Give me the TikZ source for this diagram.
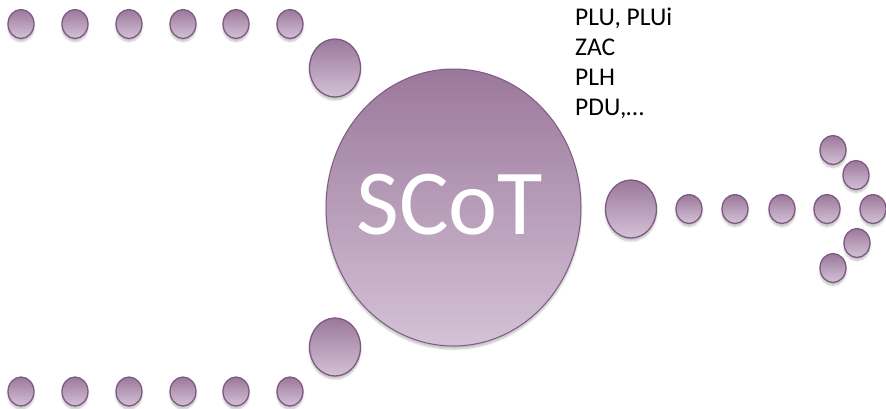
\documentclass[tikz,border=0pt]{standalone}
\usepackage{fontspec}
\setmainfont{Carlito}
\usetikzlibrary{shapes.geometric,shadows.blur}
\definecolor{ctop}{RGB}{155,120,155}
\definecolor{cbot}{RGB}{212,194,214}
\definecolor{cedge}{RGB}{126,90,130}
\tikzset{
  bub/.style={ellipse, inner sep=0pt, draw=cedge, line width=1.3pt,
    top color=ctop, bottom color=cbot,
    blur shadow={shadow xshift=0pt, shadow yshift=-3pt, shadow blur steps=6, shadow opacity=25}},
  smallb/.style={bub, minimum width=26, minimum height=29},
  medb/.style={bub, minimum width=51, minimum height=58},
  bigb/.style={bub, line width=1pt, minimum width=255, minimum height=277},
  lbl/.style={anchor=base west, inner sep=0pt, font=\fontsize{25.5}{30}\selectfont, text=black}
}
\begin{document}
\begin{tikzpicture}[x=1pt,y=-1pt]
\useasboundingbox (0,0) rectangle (886,408);
% top and bottom rows
\foreach \i/\x in {1/21,2/75,3/129,4/183,5/236,6/290}{
  \node[smallb] (t\i) at (\x,24) {};
  \node[smallb] (b\i) at (\x,391.5) {};
}
\node[medb] (tm) at (335,68) {};
\node[medb] (bm) at (335,347) {};
\node[bigb] (scot) at (453.5,207.5) {};
\node[text=white, inner sep=0pt, font=\fontsize{93}{100}\selectfont] (scotlbl) at (450,205) {SCoT};
% right arrow
\node[medb] (rm) at (631,209) {};
\foreach \i/\x in {1/689,2/735,3/782,4/827,5/873}{
  \node[smallb] (r\i) at (\x,209) {};
}
\node[smallb] (u1) at (833,150) {};
\node[smallb] (u2) at (856,175) {};
\node[smallb] (d2) at (857,243) {};
\node[smallb] (d1) at (833,268) {};
% text
\node[lbl] (l1) at (575,25) {PLU, PLUi};
\node[lbl] (l2) at (575,55) {ZAC};
\node[lbl] (l3) at (575,85) {PLH};
\node[lbl] (l4) at (575,115) {PDU,…};
\end{tikzpicture}
\end{document}
